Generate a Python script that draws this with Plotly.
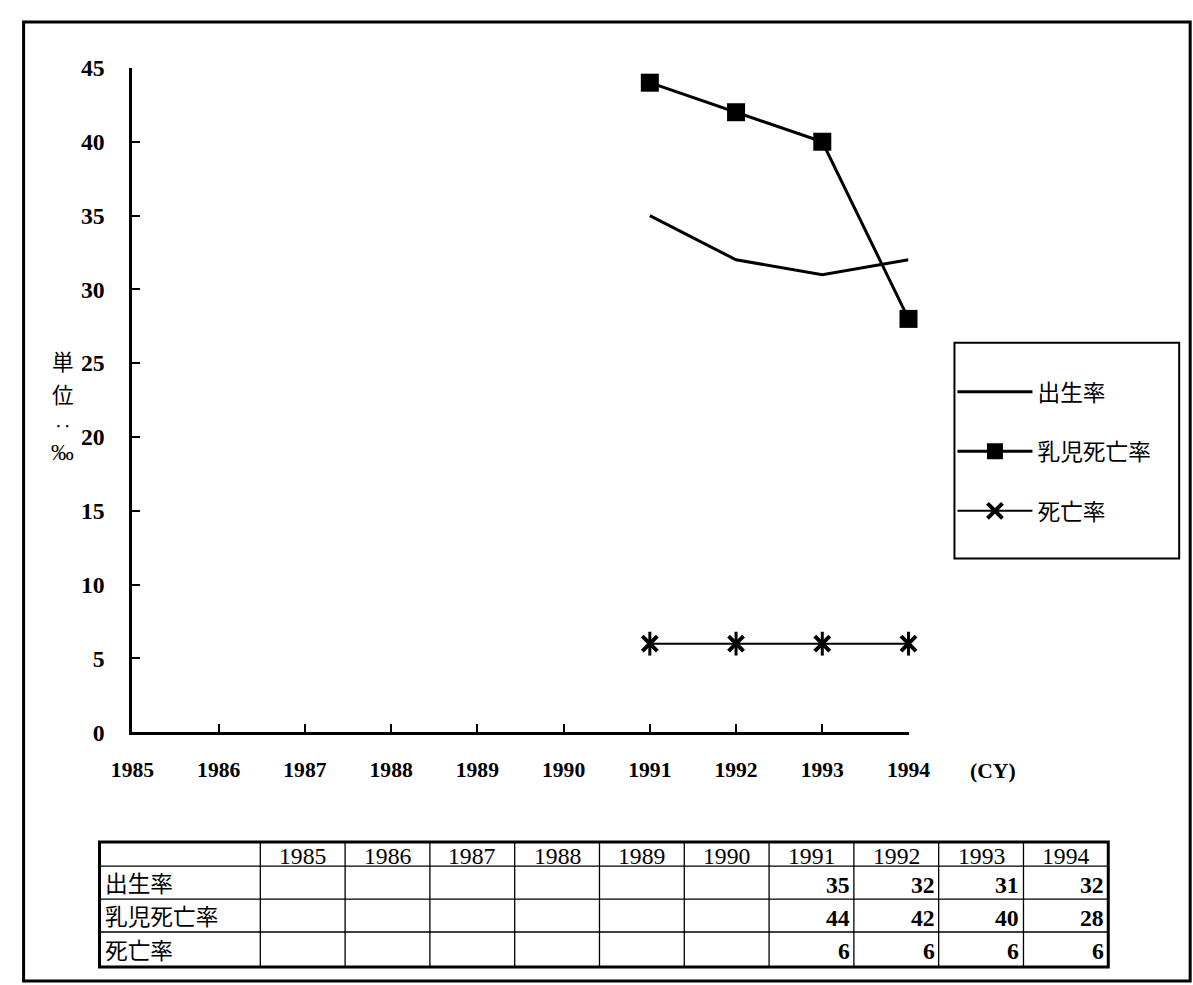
import plotly.graph_objects as go

# Data: vital statistics per calendar year (per mille)
years = [1985, 1986, 1987, 1988, 1989, 1990, 1991, 1992, 1993, 1994]
birth_rate = [None, None, None, None, None, None, 35, 32, 31, 32]
infant_mortality = [None, None, None, None, None, None, 44, 42, 40, 28]
death_rate = [None, None, None, None, None, None, 6, 6, 6, 6]
series_names = ["出生率", "乳児死亡率", "死亡率"]
y_ticks = [0, 5, 10, 15, 20, 25, 30, 35, 40, 45]

# page geometry: the figure is laid out in screen pixels through a small
# offset/scale so that it lands on the intended screen positions
W, H = 1216, 998
AX, SX = 19.4, 0.965
AY, SY = 12.0, 0.975
FS = 1 / 0.97   # font scale
SERIF = "Liberation Serif"
CJK = "Noto Sans CJK JP"


def px_x(p):
    return ((p - AX) / SX) / W


def px_y(p):
    return 1 - ((p - AY) / SY) / H


def fs(s):
    return s * FS


fig = go.Figure()

fig.add_trace(go.Scatter(
    x=years, y=birth_rate, name=series_names[0], mode="lines",
    line=dict(color="black", width=3), legendgroup="a", cliponaxis=False,
))
fig.add_trace(go.Scatter(
    x=years, y=infant_mortality, name=series_names[1], mode="lines+markers",
    line=dict(color="black", width=3),
    marker=dict(symbol="square", size=18, color="black"),
    legendgroup="b", cliponaxis=False,
))
fig.add_trace(go.Scatter(
    x=years, y=death_rate, name=series_names[2], mode="lines+markers",
    line=dict(color="black", width=2),
    marker=dict(symbol="x-thin-open", size=15, color="black",
                line=dict(color="black", width=4)),
    legendgroup="c", cliponaxis=False,
))
# vertical stroke that turns the X marks into asterisks
fig.add_trace(go.Scatter(
    x=years, y=death_rate, mode="markers", showlegend=False,
    marker=dict(symbol="line-ns-open", size=17, color="black",
                line=dict(color="black", width=3)),
    legendgroup="c", cliponaxis=False, hoverinfo="skip",
))

# ---- data table under the chart (grid of shapes + text annotations) ----
tbl_left, tbl_right = 97, 1107
first_col_w = 161
col_w = (tbl_right - tbl_left - first_col_w) / len(years)
row_edges = [842, 866, 899, 932, 967]   # header + 3 series rows
col_edges = [tbl_left, tbl_left + first_col_w] + [
    tbl_left + first_col_w + col_w * (i + 1) for i in range(len(years))
]
table_rows = [birth_rate, infant_mortality, death_rate]

shapes = []
annotations = []

for yy in row_edges[1:-1]:
    shapes.append(dict(type="line", xref="paper", yref="paper",
                       x0=px_x(tbl_left), x1=px_x(tbl_right),
                       y0=px_y(yy), y1=px_y(yy),
                       line=dict(color="black", width=1.3)))
for xx in col_edges[1:-1]:
    shapes.append(dict(type="line", xref="paper", yref="paper",
                       x0=px_x(xx), x1=px_x(xx),
                       y0=px_y(row_edges[0]), y1=px_y(row_edges[-1]),
                       line=dict(color="black", width=1.3)))
shapes.append(dict(type="rect", xref="paper", yref="paper",
                   x0=px_x(tbl_left), x1=px_x(tbl_right),
                   y0=px_y(row_edges[-1]), y1=px_y(row_edges[0]),
                   line=dict(color="black", width=3)))

# header years
for i, yr in enumerate(years):
    cx = (col_edges[i + 1] + col_edges[i + 2]) / 2
    annotations.append(dict(
        text=str(yr), xref="paper", yref="paper",
        x=px_x(cx), y=px_y((row_edges[0] + row_edges[1]) / 2 + 2),
        xanchor="center", yanchor="middle", showarrow=False,
        font=dict(family=SERIF, size=fs(23), color="black")))

# row labels and values
for r, (name, vals) in enumerate(zip(series_names, table_rows)):
    cy = (row_edges[r + 1] + row_edges[r + 2]) / 2
    annotations.append(dict(
        text=name, xref="paper", yref="paper",
        x=px_x(tbl_left + 3), y=px_y(cy),
        xanchor="left", yanchor="middle", showarrow=False,
        font=dict(family=CJK, size=fs(22), color="black")))
    for i, v in enumerate(vals):
        if v is None:
            continue
        annotations.append(dict(
            text=str(v), xref="paper", yref="paper",
            x=px_x(col_edges[i + 2] - 2), y=px_y(cy + 2),
            xanchor="right", yanchor="middle", showarrow=False,
            font=dict(family=SERIF, size=fs(23), color="black",
                      weight="bold")))

# outer frame and legend box
shapes.append(dict(type="rect", xref="paper", yref="paper",
                   x0=px_x(21), x1=px_x(1189), y0=px_y(981), y1=px_y(21),
                   line=dict(color="black", width=3)))
shapes.append(dict(type="rect", xref="paper", yref="paper",
                   x0=px_x(953), x1=px_x(1178), y0=px_y(558), y1=px_y(342),
                   line=dict(color="black", width=2)))

# vertical unit label, one character per line
unit_chars = [("単", CJK, 21, 360), ("位", CJK, 21, 393),
              ("‥", CJK, 17, 425), ("‰", SERIF, 22, 452)]
for ch, fam, size, cy in unit_chars:
    annotations.append(dict(text=ch, xref="paper", yref="paper",
                            x=px_x(60), y=px_y(cy),
                            xanchor="center", yanchor="middle",
                            showarrow=False,
                            font=dict(family=fam, size=fs(size),
                                      color="black")))
annotations.append(dict(text="(CY)", xref="paper", yref="paper",
                        x=px_x(992), y=px_y(771), xanchor="center",
                        yanchor="middle", showarrow=False,
                        font=dict(family=SERIF, size=fs(21), color="black",
                                  weight="bold")))

fig.update_layout(
    width=W, height=H,
    margin=dict(l=0, r=0, t=0, b=0),
    paper_bgcolor="white", plot_bgcolor="white",
    showlegend=True,
    legend=dict(
        x=px_x(951), y=px_y(370), xanchor="left", yanchor="top",
        font=dict(family=CJK, size=fs(22), color="black"),
        itemwidth=75, tracegroupgap=27, traceorder="grouped",
        bgcolor="rgba(0,0,0,0)",
    ),
    xaxis=dict(
        domain=[px_x(130), px_x(907)], range=[1985, 1994],
        tickvals=years, ticktext=[str(y) for y in years],
        showline=True, linecolor="black", linewidth=3,
        ticks="inside", ticklen=8, tickwidth=2, tickcolor="black",
        showgrid=False, zeroline=False, ticklabelstandoff=16,
        tickfont=dict(family=SERIF, size=fs(21), color="black",
                      weight="bold"),
    ),
    yaxis=dict(
        domain=[px_y(732), px_y(67)], range=[0, 45],
        tickvals=y_ticks,
        showline=True, linecolor="black", linewidth=3,
        ticks="inside", ticklen=8, tickwidth=2, tickcolor="black",
        showgrid=False, zeroline=False, ticklabelstandoff=20,
        tickfont=dict(family=SERIF, size=fs(23), color="black",
                      weight="bold"),
    ),
    shapes=shapes,
    annotations=annotations,
)

fig.write_html("out.html")
